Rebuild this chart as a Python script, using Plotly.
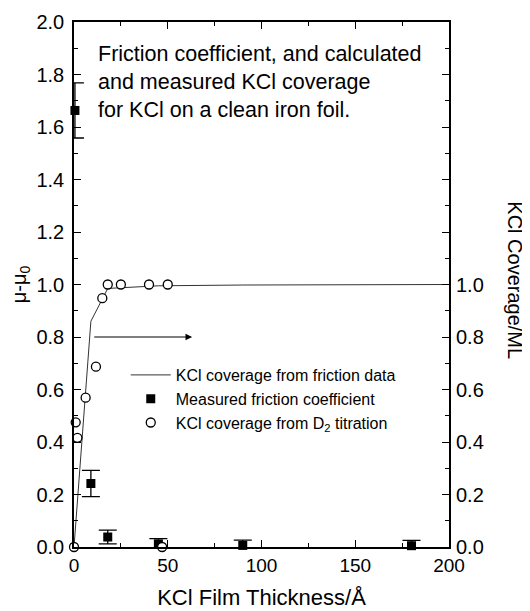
import plotly.graph_objects as go

# --- Data ---
thickness_mu = [0.5, 9, 18, 45, 90, 180]
mu_minus_mu0 = [1.663, 0.242, 0.038, 0.012, 0.006, 0.005]
mu_err = [0.105, 0.05, 0.026, 0.02, 0.02, 0.02]

thickness_fit = [0, 9, 18, 45, 90, 180, 200]
coverage_fit = [0.0, 0.86, 0.985, 0.995, 0.998, 1.0, 1.0]

thickness_d2 = [0, 0.9, 1.8, 6.2, 11.7, 15.1, 18, 25, 40, 47, 50]
coverage_d2 = [0.0, 0.475, 0.416, 0.569, 0.687, 0.948, 1.0, 1.0, 1.0, 0.0, 1.0]

x_ticks = [0, 50, 100, 150, 200]
y_ticks = [0.0, 0.2, 0.4, 0.6, 0.8, 1.0, 1.2, 1.4, 1.6, 1.8, 2.0]
cov_ticks = [0.0, 0.2, 0.4, 0.6, 0.8, 1.0]

FONT = "Liberation Sans, Arial, sans-serif"

fig = go.Figure()

fig.add_trace(go.Scatter(
    x=thickness_fit, y=coverage_fit, mode="lines", yaxis="y2",
    line=dict(color="#333333", width=1),
    name="KCl coverage from friction data", legendrank=1,
))
fig.add_trace(go.Scatter(
    x=thickness_d2, y=coverage_d2, mode="markers", yaxis="y2",
    marker=dict(symbol="circle", size=9, color="white",
                line=dict(color="black", width=1.3)),
    name="KCl coverage from D<sub>2</sub> titration", legendrank=3,
    cliponaxis=False,
))
fig.add_trace(go.Scatter(
    x=thickness_mu, y=mu_minus_mu0, mode="markers",
    marker=dict(symbol="square", size=9, color="black"),
    error_y=dict(type="data", array=mu_err, color="black", thickness=1.3, width=9),
    name="Measured friction coefficient", legendrank=2,
    cliponaxis=False,
))

axis_common = dict(
    showline=True, linecolor="black", linewidth=1.5, mirror="ticks",
    ticks="inside", ticklen=7, tickwidth=1.3, tickcolor="black",
    showgrid=False, zeroline=False, automargin=False,
)

fig.update_layout(
    width=530, height=611,
    margin=dict(l=66, r=89, t=14, b=72),
    paper_bgcolor="white", plot_bgcolor="white",
    font=dict(family=FONT, color="black"),
    showlegend=True,
    legend=dict(x=0.138, y=0.36, xanchor="left", yanchor="top",
                bgcolor="rgba(0,0,0,0)", font=dict(size=16), tracegroupgap=0,
                itemwidth=40),
    xaxis=dict(
        range=[0, 200], tickvals=x_ticks, tickfont=dict(size=19),
        minor=dict(dtick=25, ticklen=4, ticks="inside", tickcolor="black", tickwidth=1.2),
        title=dict(text="KCl Film Thickness/Å", font=dict(size=22), standoff=15),
        **axis_common,
    ),
    yaxis=dict(
        range=[0, 2], tickvals=y_ticks, ticktext=[f"{v:.1f}" for v in y_ticks],
        tickfont=dict(size=20), ticklabelstandoff=4,
        minor=dict(dtick=0.1, ticklen=4, ticks="inside", tickcolor="black", tickwidth=1.2),
        title=dict(text="μ-μ<sub>0</sub>", font=dict(size=20), standoff=10),
        **axis_common,
    ),
    yaxis2=dict(
        overlaying="y", side="right", range=[0, 2],
        tickvals=cov_ticks, ticktext=[f"{v:.1f}" for v in cov_ticks],
        tickfont=dict(size=20), ticks="", showline=False, showgrid=False,
        zeroline=False, ticklabelstandoff=6, automargin=False,
    ),
)

fig.add_annotation(
    x=0.058, y=0.966, xref="paper", yref="paper", xanchor="left", yanchor="top",
    text="Friction coefficient, and calculated<br>and measured KCl coverage<br>for KCl on a clean iron foil.",
    showarrow=False, align="left", font=dict(size=21.5),
)

fig.add_annotation(
    x=63, y=0.80, ax=10, ay=0.80, xref="x", yref="y", axref="x", ayref="y",
    text="", showarrow=True, arrowhead=2, arrowsize=1.2, arrowwidth=1.1, arrowcolor="black",
)

fig.add_annotation(
    x=1.176, y=0.508, xref="paper", yref="paper", xanchor="center", yanchor="middle",
    text="KCl Coverage/ML", showarrow=False, textangle=90, font=dict(size=20),
)

fig.write_html("out.html")
